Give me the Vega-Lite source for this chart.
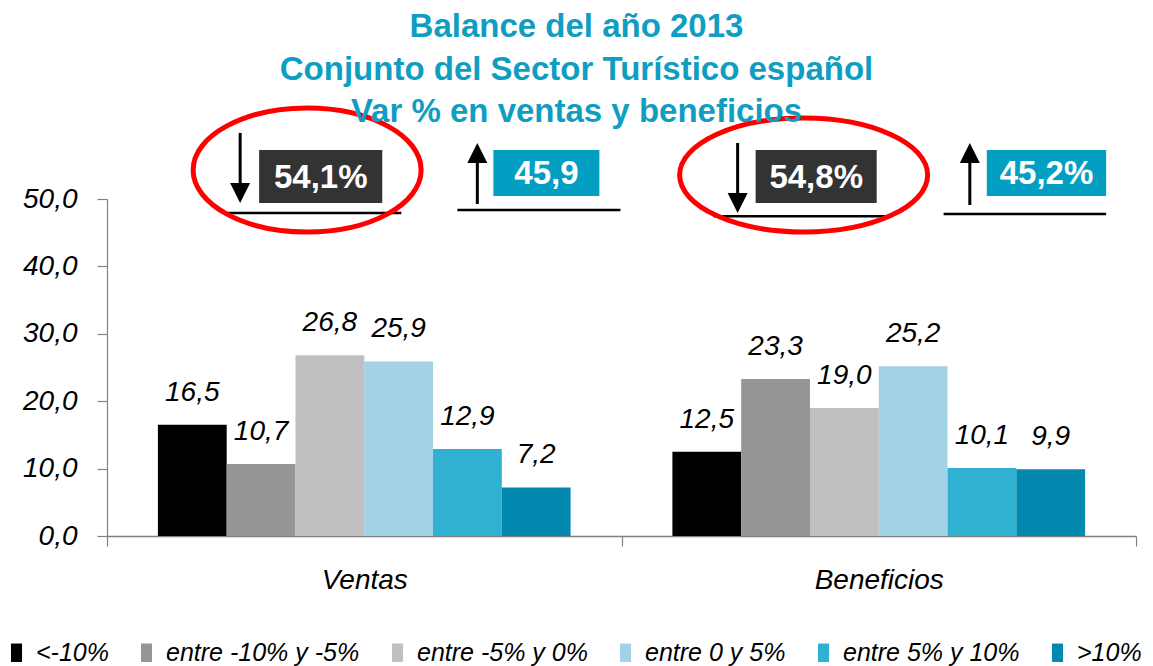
{
  "$schema": "https://vega.github.io/schema/vega-lite/v6.json",
  "width": 1029,
  "height": 337,
  "autosize": {"type": "none"},
  "padding": {"left": 107, "top": 199, "right": 17, "bottom": 130},
  "title": {
    "text": ["Balance del año 2013", "Conjunto del Sector Turístico español", "Var % en ventas y beneficios"],
    "fontSize": 33,
    "fontWeight": "bold",
    "font": "Liberation Sans",
    "color": "#109dc2",
    "lineHeight": 42.5,
    "anchor": "middle",
    "frame": "group",
    "dx": -45,
    "offset": -31
  },
  "datasets": {
    "barras": [
      {"grupo": "Ventas", "cat": "<-10%", "valor": 16.5},
      {"grupo": "Ventas", "cat": "entre -10% y -5%", "valor": 10.7},
      {"grupo": "Ventas", "cat": "entre -5% y 0%", "valor": 26.8},
      {"grupo": "Ventas", "cat": "entre 0 y 5%", "valor": 25.9},
      {"grupo": "Ventas", "cat": "entre 5% y 10%", "valor": 12.9},
      {"grupo": "Ventas", "cat": ">10%", "valor": 7.2},
      {"grupo": "Beneficios", "cat": "<-10%", "valor": 12.5},
      {"grupo": "Beneficios", "cat": "entre -10% y -5%", "valor": 23.3},
      {"grupo": "Beneficios", "cat": "entre -5% y 0%", "valor": 19.0},
      {"grupo": "Beneficios", "cat": "entre 0 y 5%", "valor": 25.2},
      {"grupo": "Beneficios", "cat": "entre 5% y 10%", "valor": 10.1},
      {"grupo": "Beneficios", "cat": ">10%", "valor": 9.9}
    ],
    "lineas": [
      {"p0": 0.2257, "p1": 0.572, "y": 47.92},
      {"p0": 0.681, "p1": 0.998, "y": 48.37},
      {"p0": 1.179, "p1": 1.523, "y": 47.45},
      {"p0": 1.626, "p1": 1.942, "y": 47.77}
    ],
    "flechas": [
      {"pos": 0.2588, "y0": 59.8, "y1": 50.9, "ypunta": 50.89, "dir": "baja"},
      {"pos": 0.7198, "y0": 56.8, "y1": 49.26, "ypunta": 56.82, "dir": "sube"},
      {"pos": 1.2257, "y0": 58.31, "y1": 49.41, "ypunta": 49.41, "dir": "baja"},
      {"pos": 1.677, "y0": 56.82, "y1": 49.11, "ypunta": 56.82, "dir": "sube"}
    ],
    "cajas": [
      {"x0": 0.2957, "x1": 0.535, "xm": 0.4154, "y0": 57.27, "y1": 49.4, "ym": 53.1, "texto": "54,1%", "tipo": "baja"},
      {"x0": 0.751, "x1": 0.957, "xm": 0.854, "y0": 57.27, "y1": 50.45, "ym": 53.65, "texto": "45,9", "tipo": "sube"},
      {"x0": 1.2607, "x1": 1.496, "xm": 1.3784, "y0": 57.27, "y1": 49.4, "ym": 53.1, "texto": "54,8%", "tipo": "baja"},
      {"x0": 1.71, "x1": 1.942, "xm": 1.826, "y0": 57.27, "y1": 50.45, "ym": 53.65, "texto": "45,2%", "tipo": "sube"}
    ],
    "elipses": [
      {"grupo": "Ventas", "pos": 0.389, "y": 54.3},
      {"grupo": "Beneficios", "pos": 1.354, "y": 53.56}
    ]
  },
  "layer": [
    {
      "data": {"name": "barras"},
      "encoding": {
        "x": {
          "field": "grupo", "type": "nominal", "sort": ["Ventas", "Beneficios"],
          "scale": {"paddingInner": 0, "paddingOuter": 0},
          "axis": {
            "title": null, "labelAngle": 0, "tickBand": "extent", "tickSize": 10,
            "labelPadding": 20, "labelFontSize": 28, "labelFontStyle": "italic",
            "labelFont": "Liberation Sans", "labelColor": "black",
            "domainColor": "#808080", "domainWidth": 1.5, "tickColor": "#808080", "tickWidth": 1.2
          }
        },
        "xOffset": {
          "field": "cat", "type": "nominal",
          "sort": ["<-10%", "entre -10% y -5%", "entre -5% y 0%", "entre 0 y 5%", "entre 5% y 10%", ">10%"],
          "scale": {"paddingInner": 0, "paddingOuter": 0.74}
        },
        "y": {
          "field": "valor", "type": "quantitative",
          "scale": {"domain": [0, 50], "nice": false},
          "axis": {
            "title": null, "values": [0, 10, 20, 30, 40, 50], "format": ".1f",
            "grid": false, "tickSize": 10, "labelPadding": 20, "labelFontSize": 28,
            "labelFontStyle": "italic", "labelFont": "Liberation Sans", "labelColor": "black",
            "domainColor": "#808080", "domainWidth": 1.2, "tickColor": "#808080", "tickWidth": 1.2
          }
        }
      },
      "layer": [
        {
          "mark": {"type": "bar"},
          "encoding": {
            "color": {
              "field": "cat", "type": "nominal",
              "sort": ["<-10%", "entre -10% y -5%", "entre -5% y 0%", "entre 0 y 5%", "entre 5% y 10%", ">10%"],
              "scale": {
                "domain": ["<-10%", "entre -10% y -5%", "entre -5% y 0%", "entre 0 y 5%", "entre 5% y 10%", ">10%"],
                "range": ["#000000", "#959595", "#c0c0c0", "#a3d2e7", "#31b1d1", "#0389af"]
              },
              "legend": {
                "orient": "none", "legendX": -103, "legendY": 441, "direction": "horizontal",
                "title": null, "symbolType": "M-0.6,-1H0.6V1H-0.6Z", "symbolSize": 340,
                "symbolStrokeWidth": 0, "symbolOpacity": 1, "labelFontSize": 25, "labelFontStyle": "italic",
                "labelFont": "Liberation Sans", "labelColor": "black", "columnPadding": 25,
                "labelOffset": 7, "labelLimit": 0
              }
            }
          }
        },
        {
          "mark": {"type": "text", "baseline": "alphabetic", "dy": -24, "fontSize": 28, "fontStyle": "italic", "font": "Liberation Sans", "color": "black"},
          "encoding": {"text": {"field": "valor", "type": "quantitative", "format": ".1f"}}
        }
      ]
    },
    {
      "resolve": {"scale": {"shape": "independent"}},
      "layer": [
        {
          "data": {"name": "lineas"},
          "mark": {"type": "rule", "color": "black", "strokeWidth": 2.5, "clip": false},
          "encoding": {
            "x": {"field": "p0", "type": "quantitative", "scale": {"domain": [0, 2], "nice": false, "zero": false}, "axis": null},
            "x2": {"field": "p1"},
            "y": {"field": "y", "type": "quantitative"}
          }
        },
        {
          "data": {"name": "flechas"},
          "mark": {"type": "rule", "color": "black", "strokeWidth": 3, "clip": false},
          "encoding": {
            "x": {"field": "pos", "type": "quantitative", "scale": {"domain": [0, 2], "nice": false, "zero": false}, "axis": null},
            "y": {"field": "y0", "type": "quantitative"},
            "y2": {"field": "y1"}
          }
        },
        {
          "data": {"name": "flechas"},
          "mark": {"type": "point", "filled": true, "color": "black", "opacity": 1, "size": 4, "clip": false},
          "encoding": {
            "x": {"field": "pos", "type": "quantitative", "scale": {"domain": [0, 2], "nice": false, "zero": false}, "axis": null},
            "y": {"field": "ypunta", "type": "quantitative"},
            "shape": {
              "field": "dir", "type": "nominal", "legend": null,
              "scale": {"domain": ["baja", "sube"], "range": ["M-10,-10L10,-10L0,10Z", "M-10,10L10,10L0,-10Z"]}
            }
          }
        },
        {
          "data": {"name": "cajas"},
          "mark": {"type": "rect", "clip": false},
          "encoding": {
            "x": {"field": "x0", "type": "quantitative", "scale": {"domain": [0, 2], "nice": false, "zero": false}, "axis": null},
            "x2": {"field": "x1"},
            "y": {"field": "y0", "type": "quantitative"},
            "y2": {"field": "y1"},
            "fill": {
              "field": "tipo", "type": "nominal", "legend": null,
              "scale": {"domain": ["baja", "sube"], "range": ["#333333", "#039fc2"]}
            }
          }
        },
        {
          "data": {"name": "cajas"},
          "mark": {"type": "text", "color": "white", "fontSize": 33, "fontWeight": "bold", "font": "Liberation Sans", "baseline": "middle", "align": "center", "clip": false},
          "encoding": {
            "x": {"field": "xm", "type": "quantitative", "scale": {"domain": [0, 2], "nice": false, "zero": false}, "axis": null},
            "y": {"field": "ym", "type": "quantitative"},
            "text": {"field": "texto", "type": "nominal"}
          }
        },
        {
          "data": {"name": "elipses"},
          "mark": {"type": "point", "filled": false, "stroke": "#ff0000", "strokeWidth": 5, "opacity": 1, "size": 4, "clip": false},
          "encoding": {
            "x": {"field": "pos", "type": "quantitative", "scale": {"domain": [0, 2], "nice": false, "zero": false}, "axis": null},
            "y": {"field": "y", "type": "quantitative"},
            "shape": {
              "field": "grupo", "type": "nominal", "legend": null,
              "scale": {
                "domain": ["Ventas", "Beneficios"],
                "range": ["M-114,0A114,62 0 1,1 114,0A114,62 0 1,1 -114,0Z", "M-124,0A124,57 0 1,1 124,0A124,57 0 1,1 -124,0Z"]
              }
            }
          }
        }
      ]
    }
  ],
  "resolve": {"scale": {"x": "independent", "fill": "independent"}},
  "config": {
    "locale": {"number": {"decimal": ",", "thousands": ".", "grouping": [3], "currency": ["", " €"]}},
    "view": {"stroke": null},
    "font": "Liberation Sans"
  }
}
